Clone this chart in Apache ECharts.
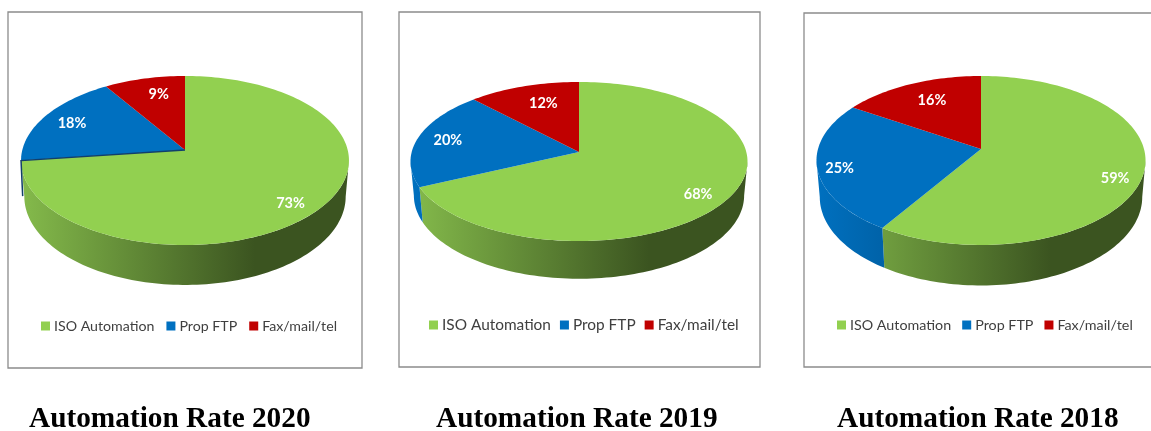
<!DOCTYPE html>
<html><head><meta charset="utf-8">
<style>html,body{margin:0;padding:0;background:#fff;overflow:hidden}#c{width:1151px;height:431px}</style>
<script src="https://cdn.jsdelivr.net/npm/echarts@6/dist/echarts.min.js"></script>
</head><body><div id="c"></div>
<script>
var categories = ['ISO Automation', 'Prop FTP', 'Fax/mail/tel'];
var values2020 = [73, 18, 9];
var values2019 = [68, 20, 12];
var values2018 = [59, 25, 16];
var titles = ['Automation Rate 2020', 'Automation Rate 2019', 'Automation Rate 2018'];
var colors = ['#92d050', '#0070c0', '#c00000'];
var wallLeft = ['#84ba4b', '#0070bf', '#a00000'];
var wallRight = ['#3b5420', '#003f6e', '#600000'];

var layouts = [
  {vals: values2020, box: [8, 12, 354, 356], cx: 185, ay: 150, A: 162.7, B: 83.2, p: 0.124, d: 35.5,
   legendLeft: 41, legendTop: 319, legendSize: 14.2, legendGap: 12, titleLeft: 29, edgeSlice: 1,
   labelR: [0.8, 0.8, 0.75], labelShift: [[1, 6], [0, 1], [5, -1]]},
  {vals: values2019, box: [399, 12, 361, 355], cx: 579, ay: 152, A: 167.3, B: 78.4, p: 0.1195, d: 33.5,
   legendLeft: 429, legendTop: 317.5, legendSize: 15.4, legendGap: 9, titleLeft: 436, edgeSlice: -1,
   labelR: [0.8, 0.8, 0.75], labelShift: [[0, 7], [-2, 0], [7, 2]]},
  {vals: values2018, box: [804, 13, 360, 354], cx: 981, ay: 149, A: 163, B: 82.9, p: 0.136, d: 36,
   legendLeft: 837, legendTop: 318, legendSize: 14.3, legendGap: 11, titleLeft: 837, edgeSlice: -1,
   labelR: [0.8, 0.8, 0.75], labelShift: [[5, 10], [-11, 5], [5, 1]]}
];

function rim(L, deg, sx, sy, dy, r) {
  var t = deg * Math.PI / 180, u = r * Math.sin(t), v = r * Math.cos(t), w = 1 + L.p * v;
  return [L.cx + sx * L.A * u / w, L.ay + dy - sy * L.B * v / w];
}
function arcPts(L, a0, a1, sx, sy, dy) {
  var pts = [], n = Math.max(2, Math.ceil(Math.abs(a1 - a0) / 1.5));
  for (var i = 0; i <= n; i++) pts.push(rim(L, a0 + (a1 - a0) * i / n, sx, sy, dy, 1));
  return pts;
}
function makeRender(L, idx, startShare, share) {
  return function () {
    var a0 = startShare * 3.6, a1 = (startShare + share) * 3.6;
    var kids = [];
    // the wall is visible between the two side extremes of the projected rim
    var side = Math.acos(L.p) * 180 / Math.PI;
    var w0 = Math.max(a0, 180 - side), w1 = Math.min(a1, 180 + side);
    if (w1 > w0) {
      var top = arcPts(L, w0, w1, 1, 1, 0);
      var bot = arcPts(L, w1, w0, 0.98, 1.047, L.d);
      kids.push({type: 'polygon', z2: 1, shape: {points: top.concat(bot)},
        style: {lineWidth: 0, fill: new echarts.graphic.LinearGradient(L.cx - L.A, 0, L.cx + 70, 0,
          [{offset: 0, color: wallLeft[idx]}, {offset: 1, color: wallRight[idx]}], true)}});
    }
    var face = [[L.cx, L.ay]].concat(arcPts(L, a0, a1, 1, 1, 0));
    kids.push({type: 'polygon', z2: 5, shape: {points: face}, style: {fill: colors[idx], lineWidth: 0}});
    if (L.edgeSlice === idx) {
      kids.push({type: 'polyline', z2: 6,
        shape: {points: [[L.cx, L.ay], rim(L, a0, 1, 1, 0, 1), rim(L, a0, 0.99, 1, L.d, 1)]},
        style: {stroke: '#123f6b', lineWidth: 1.5, fill: 'none'}});
    }
    var mid = (a0 + a1) / 2, lp = rim(L, mid, 1, 1, 0, L.labelR[idx]), sh = L.labelShift[idx];
    kids.push({type: 'text', z2: 10, style: {x: lp[0] + sh[0], y: lp[1] + sh[1], text: share + '%',
      fill: '#fff', font: 'bold 14.5px Lato', align: 'center', verticalAlign: 'middle'}});
    return {type: 'group', children: kids};
  };
}

var series = [], legends = [], titleOpts = [], graphics = [];
layouts.forEach(function (L, n) {
  var cum = 0;
  L.vals.forEach(function (v, j) {
    series.push({type: 'custom', name: categories[j], coordinateSystem: 'none', silent: true, animation: false,
      itemStyle: {color: colors[j]}, data: [v], renderItem: makeRender(L, j, cum, v)});
    cum += v;
  });
  legends.push({data: categories, left: L.legendLeft, top: L.legendTop, icon: 'rect', itemWidth: 9, itemHeight: 9,
    itemGap: L.legendGap, selectedMode: false, padding: 0,
    textStyle: {fontFamily: 'Lato', fontSize: L.legendSize, color: '#3f3f3f', padding: [0, 0, 0, -1]}});
  titleOpts.push({text: titles[n], left: L.titleLeft, top: 405, padding: 0,
    textStyle: {fontFamily: 'Liberation Serif', fontWeight: 'bold', fontSize: 29.3, color: '#000'}});
  graphics.push({type: 'rect', shape: {x: L.box[0], y: L.box[1], width: L.box[2], height: L.box[3]},
    style: {fill: '#fff', stroke: '#8c8c8c', lineWidth: 1.3}, z: -1, silent: true});
});

var chart = echarts.init(document.getElementById('c'), null, {renderer: 'canvas'});
chart.setOption({backgroundColor: '#fff', animation: false, title: titleOpts, legend: legends,
  graphic: graphics, series: series, tooltip: {show: false}});
</script></body></html>
